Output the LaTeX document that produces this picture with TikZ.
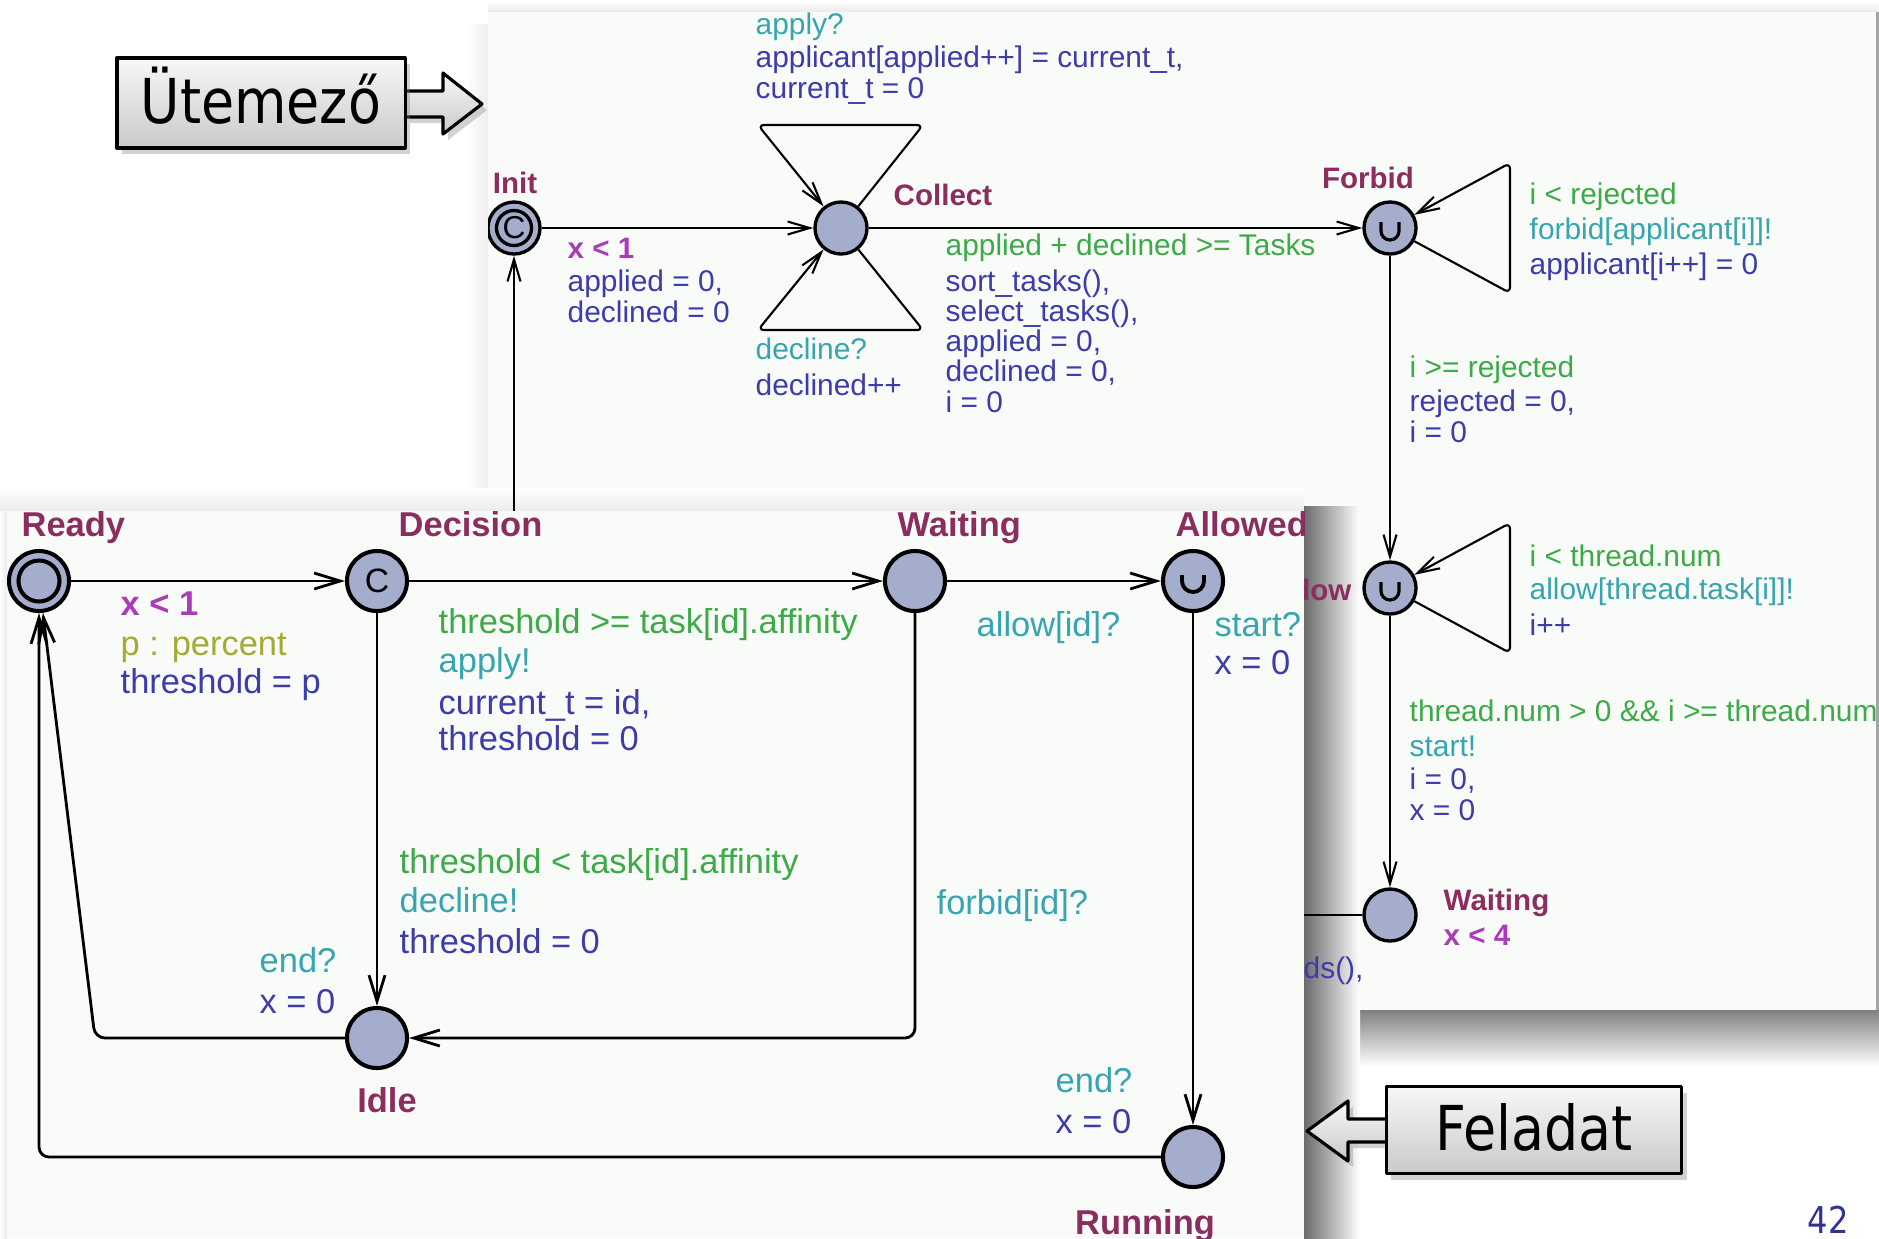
\documentclass[tikz,border=0pt]{standalone}
\usepackage{fontspec}
\setmainfont{Liberation Sans}
\newfontfamily\slidefont[FakeStretch=0.87]{DejaVu Sans}
\usetikzlibrary{arrows.meta,positioning,calc,shadows}

\definecolor{locname}{RGB}{140,45,95}
\definecolor{invcol}{RGB}{170,60,185}
\definecolor{grdcol}{RGB}{60,170,70}
\definecolor{syncol}{RGB}{55,165,175}
\definecolor{updcol}{RGB}{60,60,170}
\definecolor{selcol}{RGB}{165,170,50}
\definecolor{locfill}{RGB}{165,173,205}
\definecolor{panelbg}{RGB}{249,251,248}
\definecolor{numcol}{RGB}{50,50,150}

\newcommand{\grd}[1]{\textcolor{grdcol}{#1}}
\newcommand{\syn}[1]{\textcolor{syncol}{#1}}
\newcommand{\slc}[1]{\textcolor{selcol}{#1}}

\begin{document}
\begin{tikzpicture}[x=0.01cm,y=-0.01cm,line join=round,
  loc/.style={circle,draw,fill=locfill,inner sep=0pt},
  sloc/.style={loc,line width=0.95pt,minimum size=5.2mm,font=\fontsize{9}{9}\selectfont},
  bloc/.style={loc,line width=1.15pt,minimum size=6mm,font=\fontsize{9.6}{10}\selectfont},
  sedge/.style={line width=0.6pt,-{Straight Barb[length=2.2mm,width=1.3mm]}},
  bedge/.style={line width=0.8pt,rounded corners=1mm,-{Straight Barb[length=2.6mm,width=1.6mm]}},
  sname/.style={anchor=base,inner sep=0pt,text=locname,font=\fontsize{8.4}{9}\selectfont\bfseries},
  bname/.style={anchor=base,inner sep=0pt,text=locname,font=\fontsize{9.8}{10}\selectfont\bfseries},
  sinv/.style={sname,anchor=base west,text=invcol},
  binv/.style={bname,anchor=base west,text=invcol},
  stext/.style={anchor=base west,align=left,inner sep=0pt,text=updcol,font=\fontsize{8.5}{8.6}\selectfont},
  btext/.style={anchor=base west,align=left,inner sep=0pt,text=updcol,font=\fontsize{9.8}{10}\selectfont},
  slidebox/.style={draw=black,line width=0.9pt,top color=gray!6,bottom color=gray!42,
    drop shadow={shadow xshift=0.5mm,shadow yshift=-0.6mm,opacity=0.35}},
  urg/.style={line width=0.9pt}
]
\useasboundingbox (0,0) rectangle (1879,1238);
\fill[white] (0,0) rectangle (1879,1238);

% Utemezo panel and shadows
\shade[left color=white,right color=black!7] (466,24) rectangle (488,1010);
\shade[top color=white,bottom color=black!8] (488,0) rectangle (1879,12);
\shade[top color=black!50,bottom color=white] (488,1010) rectangle (1879,1066);
\fill[panelbg] (488,12) rectangle (1876,1010);
\fill[black!35] (1876,12) rectangle (1879,1010);

% Feladat panel shadows
\shade[top color=white,bottom color=black!8] (0,488) rectangle (1304,511);
\shade[left color=black!58,right color=white] (1304,506) rectangle (1360,1238);

\begin{scope}
  \clip (488,12) rectangle (1876,1010);
  \node[sloc] (init) at (514,228) {C};
  \draw[line width=0.95pt] (init.center) circle[radius=1.75mm];
  \node[sloc] (collect) at (841,228) {};
  \node[sloc] (forbid) at (1390,228) {};
  \node[sloc] (allow) at (1390,588) {};
  \node[sloc] (waitT) at (1390,915) {};
  \draw[urg] ($(forbid)+(-9,-6)$) -- ++(0,9) arc[start angle=180,end angle=360,radius=0.9mm] -- ++(0,-9);
  \draw[urg] ($(allow)+(-9,-6)$) -- ++(0,9) arc[start angle=180,end angle=360,radius=0.9mm] -- ++(0,-9);

  \draw[sedge] (init) -- (collect);
  \draw[sedge] (collect) -- (forbid);
  \draw[sedge] (forbid) -- (allow);
  \draw[sedge] (allow) -- (waitT);
  \draw[sedge,rounded corners=0.6mm] (collect) -- (923,125) -- (758,125) -- (collect);
  \draw[sedge,rounded corners=0.6mm] (collect) -- (923,330) -- (758,330) -- (collect);
  \draw[sedge,rounded corners=0.6mm] (forbid) -- (1510,293) -- (1510,163) -- (forbid);
  \draw[sedge,rounded corners=0.6mm] (allow) -- (1510,653) -- (1510,523) -- (allow);
  \draw[sedge] (waitT) -- (514,915) -- (init);

  \node[sname] (initname) at (515,193) {Init};
  \node[sname,anchor=base west] (collectname) at (893,205) {Collect};
  \node[sname] (forbidname) at (1368,188) {Forbid};
  \node[sname,anchor=base east] (allowname) at (1352,600) {Allow};
  \node[sname,anchor=base west] (waitTname) at (1443,910) {Waiting};
  \node[sinv] (waitTinv) at (1443,945) {x < 4};
  \node[sinv] (initinv) at (567,258) {x < 1};
  \node[stext] (initupd) at (567,322) {applied = 0,\\ declined = 0};
  \node[stext] (applylbl) at (755,98) {\syn{apply?}\\[0.8pt] applicant[applied++] = current\_t,\\ current\_t = 0};
  \node[stext] (declinelbl) at (755,395) {\syn{decline?}\\[1.4pt] declined++};
  \node[stext] (collectlbl) at (945,412) {\grd{applied + declined >= Tasks}\\[1.4pt] sort\_tasks(),\\ select\_tasks(),\\ applied = 0,\\ declined = 0,\\ i = 0};
  \node[stext] (forbidloop) at (1529,274) {\grd{i < rejected}\\[1.4pt] \syn{forbid[applicant[i]]!}\\[1.1pt] applicant[i++] = 0};
  \node[stext] (forbidlbl) at (1409,442) {\grd{i >= rejected}\\[1.1pt] rejected = 0,\\ i = 0};
  \node[stext] (allowloop) at (1529,635) {\grd{i < thread.num}\\[0.8pt] \syn{allow[thread.task[i]]!}\\[1.4pt] i++};
  \node[stext] (allowlbl) at (1409,820) {\grd{thread.num > 0 \&\& i >= thread.num}\\[1.4pt] \syn{start!}\\[0.8pt] i = 0,\\ x = 0};
  \node[stext] (waitTlbl) at (1303,978) {ds(),};
\end{scope}

% Feladat panel
\shade[left color=white,right color=black!8] (0,511) rectangle (7,1238);
\fill[panelbg] (7,511) rectangle (1304,1238);
\begin{scope}
  \clip (7,511) rectangle (1304,1238);
  \node[bloc] (ready) at (39,581) {};
  \draw[line width=1.15pt] (ready.center) circle[radius=2.05mm];
  \node[bloc] (decision) at (377,581) {C};
  \node[bloc] (waiting) at (915,581) {};
  \node[bloc] (allowed) at (1193,581) {};
  \node[bloc] (idle) at (377,1038) {};
  \node[bloc] (running) at (1193,1157) {};
  \draw[urg,line width=1.1pt] ($(allowed)+(-11,-6)$) -- ++(0,6) arc[start angle=180,end angle=360,radius=1.1mm] -- ++(0,-6);

  \draw[bedge] (ready) -- (decision);
  \draw[bedge] (decision) -- (waiting);
  \draw[bedge] (waiting) -- (allowed);
  \draw[bedge] (decision) -- (idle);
  \draw[bedge] (allowed) -- (running);
  \draw[bedge] (waiting) -- (915,1038) -- (idle);
  \draw[bedge] (idle) -- (95,1038) -- (ready);
  \draw[bedge] (running) -- (39,1157) -- (ready);

  \node[bname,anchor=base west] (readyname) at (21,536) {Ready};
  \node[bname,anchor=base west] (decisionname) at (398,536) {Decision};
  \node[bname,anchor=base west] (waitingname) at (897,536) {Waiting};
  \node[bname,anchor=base west] (allowedname) at (1175,536) {Allowed};
  \node[bname] (idlename) at (387,1112) {Idle};
  \node[bname] (runningname) at (1145,1234) {Running};
  \node[binv] (readyinv) at (120,615) {x < 1};
  \node[btext] (readylbl) at (120,693) {\slc{p : percent}\\[0.8pt] threshold = p};
  \node[btext] (applylbl2) at (438,750) {\grd{threshold >= task[id].affinity}\\[1.1pt] \syn{apply!}\\[2pt] current\_t = id,\\ threshold = 0};
  \node[btext] (declinelbl2) at (399,953) {\grd{threshold < task[id].affinity}\\[1.1pt] \syn{decline!}\\[1.4pt] threshold = 0};
  \node[btext] (allowlbl2) at (976,636) {\syn{allow[id]?}};
  \node[btext] (forbidlbl2) at (936,914) {\syn{forbid[id]?}};
  \node[btext] (startlbl) at (1214,674) {\syn{start?}\\[0.8pt] x = 0};
  \node[btext] (endlbl1) at (259,1013) {\syn{end?}\\[1.4pt] x = 0};
  \node[btext] (endlbl2) at (1055,1133) {\syn{end?}\\[1.4pt] x = 0};
\end{scope}

% slide call-outs
\draw[slidebox] (405,91) -- (443,91) -- (443,73) -- (482,104) -- (443,134) -- (443,117) -- (405,117) -- cycle;
\node[slidebox,minimum width=2.88cm,minimum height=0.9cm,inner sep=0pt,text height=12.8pt,text depth=1pt,
  font=\slidefont\fontsize{17.6}{18}\selectfont] (utemezo) at (261,103) {Ütemező};
\draw[slidebox] (1387,1119) -- (1348,1119) -- (1348,1101) -- (1307,1131) -- (1348,1161) -- (1348,1142) -- (1387,1142) -- cycle;
\node[slidebox,minimum width=2.95cm,minimum height=0.87cm,inner sep=0pt,text height=12.8pt,text depth=1pt,
  font=\slidefont\fontsize{17.6}{18}\selectfont] (feladat) at (1534,1130) {Feladat};
\node[anchor=base west,inner sep=0pt,text=numcol,font=\slidefont\fontsize{10.5}{11}\selectfont] (pagenum) at (1807,1233) {42};
\end{tikzpicture}
\end{document}
